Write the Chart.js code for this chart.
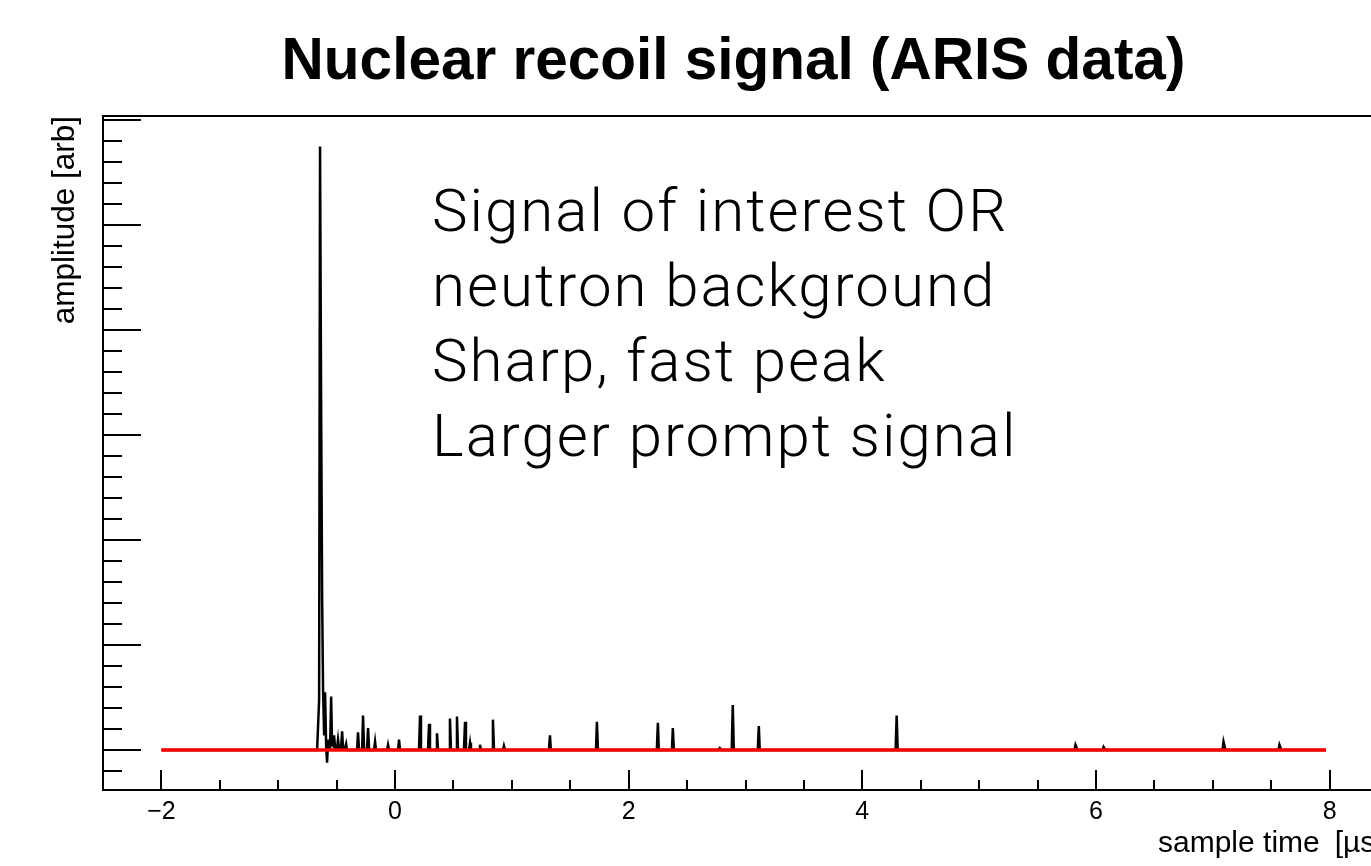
<!DOCTYPE html>
<html>
<head>
<meta charset="utf-8">
<title>Nuclear recoil signal (ARIS data)</title>
<script src="https://cdn.jsdelivr.net/npm/chart.js@4.4.1/dist/chart.umd.min.js"></script>
<style>
  html, body { margin: 0; padding: 0; background: #fff; overflow: hidden; }
  #wrap { width: 1467px; height: 866px; }
</style>
</head>
<body>
<div id="wrap"><canvas id="trace" width="1467" height="866"></canvas></div>
<script>
// digitized waveform: sample time [us] and amplitude [arb]
const traceTime = [
    -2.000, -0.667, -0.650, -0.642, -0.633, -0.624, -0.616, -0.607, -0.599, -0.590,
    -0.582, -0.573, -0.565, -0.556, -0.547, -0.539, -0.530, -0.522, -0.513, -0.496,
    -0.488, -0.479, -0.462, -0.453, -0.445, -0.428, -0.419, -0.411,
    -0.325, -0.317, -0.308,  -0.282, -0.274, -0.265,  -0.240, -0.231, -0.222,
    -0.180, -0.171, -0.163,  -0.068, -0.060, -0.051,   0.026,  0.034,  0.043,
     0.205,  0.214,  0.222,   0.282,  0.291,  0.299,   0.351,  0.359,  0.368,
     0.462,  0.470,  0.479,   0.522,  0.530,  0.539,   0.590,  0.599,  0.607,
     0.633,  0.642,  0.650,   0.719,  0.727,  0.736,   0.830,  0.838,  0.847,
     0.924,  0.932,  0.941,   1.317,  1.326,  1.334,   1.720,  1.728,  1.737,
     2.241,  2.250,  2.258,   2.370,  2.378,  2.387,   2.763,  2.780,  2.797,
     2.882,  2.891,  2.900,   3.105,  3.114,  3.122,   4.285,  4.294,  4.303,
     5.816,  5.825,  5.843,   6.056,  6.065,  6.082,   7.083,  7.092,  7.109,
     7.562,  7.571,  7.588,   7.956
];
const traceAmp = [
    0.00, 0.00, 0.48, 5.75, 3.34, 1.43, 0.57, 0.14, 0.55, 0.05,
   -0.12, 0.10, 0.02, 0.02, 0.51, 0.05, 0.04, 0.14, 0.02, 0.02,
    0.10, 0.01, 0.02, 0.18, 0.01, 0.02, 0.06, 0.00,
    0.00, 0.17, 0.00,   0.00, 0.33, 0.00,   0.00, 0.21, 0.00,
    0.00, 0.08, 0.00,   0.00, 0.05, 0.00,   0.00, 0.10, 0.00,
    0.00, 0.33, 0.00,   0.00, 0.25, 0.00,   0.00, 0.16, 0.00,
    0.00, 0.30, 0.00,   0.00, 0.32, 0.00,   0.00, 0.27, 0.00,
    0.00, 0.07, 0.00,   0.00, 0.05, 0.00,   0.00, 0.29, 0.00,
    0.00, 0.04, 0.00,   0.00, 0.14, 0.00,   0.00, 0.27, 0.00,
    0.00, 0.26, 0.00,   0.00, 0.21, 0.00,   0.00, 0.02, 0.00,
    0.00, 0.43, 0.00,   0.00, 0.23, 0.00,   0.00, 0.33, 0.00,
    0.00, 0.05, 0.00,   0.00, 0.03, 0.00,   0.00, 0.08, 0.00,
    0.00, 0.05, 0.00,   0.00
];

// fitted baseline (red)
const baselineTime = [-2.0, 7.97];
const baselineAmp = [0.0, 0.0];

const xTickLabels = [-2, 0, 2, 4, 6, 8];
const X_MIN = -2.5, X_MAX = 8.5;
const Y_MIN = -0.38, Y_MAX = 6.04;

const titleText = 'Nuclear recoil signal (ARIS data)';
const xTitleText = 'sample time\u2002[\u00b5s]';
const noteLines = [
    'Signal of interest OR',
    'neutron background',
    'Sharp, fast peak',
    'Larger prompt signal'
];

const SANS = '"Liberation Sans", Arial, sans-serif';
const toPoints = (xs, ys) => xs.map((t, i) => ({ x: t, y: ys[i] }));

// ROOT-like frame: box with inward major/minor ticks, plus the texts
const rootFrame = {
    id: 'rootFrame',
    afterDatasetsDraw(chart) {
        const { ctx, chartArea: a, scales: { x, y } } = chart;
        ctx.save();
        ctx.strokeStyle = '#000';
        ctx.lineWidth = 2;
        ctx.beginPath();
        // x ticks every 0.5, major every 2
        for (let k = 0; k <= 22; k++) {
            const v = X_MIN + 0.5 * k;
            const px = Math.round(x.getPixelForValue(v));
            const len = xTickLabels.includes(v) ? 20 : 10;
            ctx.moveTo(px, a.bottom);
            ctx.lineTo(px, a.bottom - len);
        }
        // y ticks every 0.2, major every 1
        for (let k = -1; k <= 30; k++) {
            const py = Math.round(y.getPixelForValue(k * 0.2));
            const len = k % 5 === 0 ? 38 : 19;
            ctx.moveTo(a.left, py);
            ctx.lineTo(a.left + len, py);
        }
        ctx.stroke();
        ctx.strokeRect(a.left, a.top, a.right - a.left, a.bottom - a.top);

        ctx.fillStyle = '#000';
        ctx.textBaseline = 'alphabetic';

        // pad title, centred on the full canvas
        ctx.font = 'bold 58.5px ' + SANS;
        ctx.textAlign = 'center';
        ctx.fillText(titleText, chart.width / 2, 79);

        // x axis title, runs past the right edge of the frame
        ctx.font = '30px ' + SANS;
        ctx.textAlign = 'left';
        ctx.fillText(xTitleText, a.right - 230, 852);

        // annotation block
        ctx.font = '300 60px Roboto, "Open Sans", Lato, sans-serif';
        ctx.letterSpacing = '2px';
        noteLines.forEach((line, i) => {
            ctx.fillText(line, a.left + 329, a.top + 115 + i * 75);
        });
        ctx.restore();
    }
};

new Chart(document.getElementById('trace'), {
    type: 'line',
    data: {
        datasets: [
            {
                label: 'baseline',
                data: toPoints(baselineTime, baselineAmp),
                borderColor: '#ff0000',
                borderWidth: 3.5,
                pointRadius: 0,
                tension: 0
            },
            {
                label: 'waveform',
                data: toPoints(traceTime, traceAmp),
                borderColor: '#000000',
                borderWidth: 2.5,
                pointRadius: 0,
                tension: 0
            }
        ]
    },
    options: {
        responsive: false,
        animation: false,
        events: [],
        layout: { padding: { left: 0, right: 79, top: 116, bottom: 0 } },
        plugins: {
            legend: { display: false },
            tooltip: { enabled: false }
        },
        scales: {
            x: {
                type: 'linear',
                min: X_MIN,
                max: X_MAX,
                grid: { display: false, drawTicks: false },
                border: { display: false },
                afterBuildTicks: (scale) => { scale.ticks = xTickLabels.map(v => ({ value: v })); },
                afterFit: (scale) => { scale.height = 76; },
                ticks: {
                    color: '#000',
                    padding: 7,
                    maxRotation: 0,
                    font: { family: SANS, size: 25 },
                    callback: (v) => (v < 0 ? '\u2212' + Math.abs(v) : String(v))
                }
            },
            y: {
                type: 'linear',
                min: Y_MIN,
                max: Y_MAX,
                grid: { display: false, drawTicks: false },
                border: { display: false },
                ticks: { display: false },
                afterFit: (scale) => { scale.width = 103; },
                title: {
                    display: true,
                    text: 'amplitude [arb]',
                    align: 'end',
                    color: '#000',
                    font: { family: SANS, size: 31.5 },
                    padding: { top: 46, bottom: 0 }
                }
            }
        }
    },
    plugins: [rootFrame]
});
</script>
</body>
</html>
